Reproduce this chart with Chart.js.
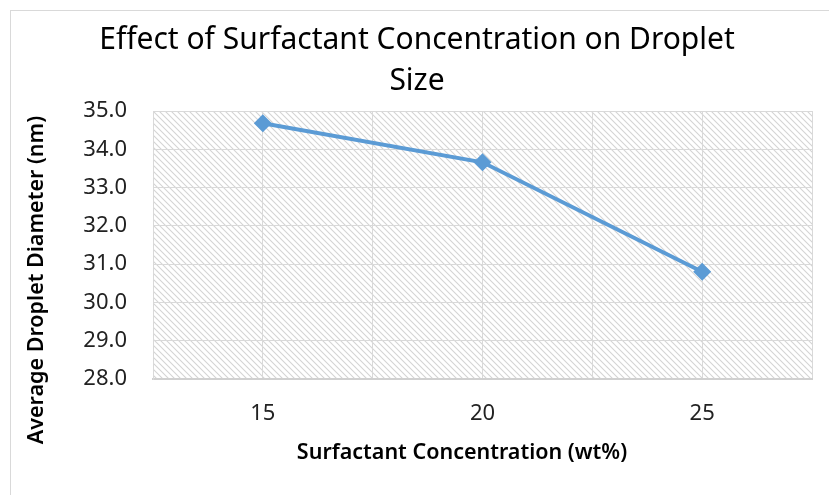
<!DOCTYPE html>
<html>
<head>
<meta charset="utf-8">
<script src="https://cdn.jsdelivr.net/npm/chart.js@4.4.0/dist/chart.umd.min.js"></script>
<style>
  html, body { margin: 0; padding: 0; background: #fff; }
  #wrap { width: 829px; height: 495px; }
</style>
</head>
<body>
<div id="wrap"><canvas id="myChart" width="829" height="495"></canvas></div>
<script>
// data
var concentrations = [15, 20, 25];            // wt%
var diameters = [34.68, 33.66, 30.80];        // nm
var xTickLabels = ['15', '20', '25'];
var titleLines = ['Effect of Surfactant Concentration on Droplet', 'Size'];
var xTitle = 'Surfactant Concentration (wt%)';
var yTitle = 'Average Droplet Diameter (nm)';

var points = concentrations.map(function (c, i) { return { x: c, y: diameters[i] }; });

function makeHatch(ctx) {
	var p = document.createElement('canvas');
	p.width = 6; p.height = 6;
	var pc = p.getContext('2d');
	pc.strokeStyle = '#d4d4d4';
	pc.lineWidth = 1.1;
	pc.beginPath();
	pc.moveTo(0, 0); pc.lineTo(6, 6);
	pc.moveTo(-1, 5); pc.lineTo(1, 7);
	pc.moveTo(5, -1); pc.lineTo(7, 1);
	pc.stroke();
	return ctx.createPattern(p, 'repeat');
}

var backdrop = {
	id: 'backdrop',
	beforeDraw: function (chart) {
		var ctx = chart.ctx, a = chart.chartArea;
		ctx.save();
		ctx.fillStyle = '#fff';
		ctx.fillRect(0, 0, chart.width, chart.height);
		ctx.strokeStyle = '#d9d9d9';
		ctx.lineWidth = 1;
		ctx.strokeRect(10.5, 10.5, chart.width + 20, chart.height + 20);
		ctx.fillStyle = makeHatch(ctx);
		ctx.fillRect(a.left, a.top, a.right - a.left, a.bottom - a.top);
		ctx.restore();
	},
	afterDraw: function (chart) {
		var ctx = chart.ctx;
		ctx.save();
		ctx.fillStyle = '#000';
		ctx.textAlign = 'center';
		ctx.textBaseline = 'alphabetic';
		ctx.font = '30px "Noto Sans"';
		ctx.fillText(titleLines[0], 417, 49);
		ctx.fillText(titleLines[1], 417, 90);

		ctx.font = '600 21.5px "Noto Sans"';
		ctx.textBaseline = 'middle';
		ctx.fillText(xTitle, 462, 453);

		ctx.translate(37, 280);
		ctx.rotate(-Math.PI / 2);
		ctx.fillText(yTitle, 0, 0);
		ctx.restore();
	}
};

var ctx = document.getElementById('myChart').getContext('2d');
var myChart = new Chart(ctx, {
	type: 'line',
	data: {
		datasets: [{
			label: 'Droplet size',
			data: points,
			borderColor: '#5B9BD5',
			backgroundColor: '#5B9BD5',
			borderWidth: 4,
			tension: 0,
			pointStyle: 'rectRot',
			pointRadius: 9,
			pointBorderWidth: 0,
			pointBackgroundColor: '#5B9BD5'
		}]
	},
	options: {
		responsive: false,
		animation: false,
		layout: { padding: { top: 111, left: 10, right: 17, bottom: 0 } },
		plugins: {
			legend: { display: false },
			tooltip: { enabled: false },
			title: { display: false }
		},
		scales: {
			x: {
				type: 'linear',
				min: 12.5,
				max: 27.5,
				afterFit: function (s) { s.height = 116; s.paddingRight = 0; s.paddingLeft = 0; },
				ticks: {
					stepSize: 2.5,
					autoSkip: false,
					maxRotation: 0,
					padding: 22,
					color: '#222',
					font: { family: 'Noto Sans', size: 22 },
					callback: function (v) {
						var i = concentrations.indexOf(v);
						return i >= 0 ? xTickLabels[i] : '';
					}
				},
				grid: { color: '#d9d9d9', drawTicks: false },
				border: { color: '#d0d0d0', width: 2 }
			},
			y: {
				min: 28,
				max: 35,
				afterFit: function (s) { s.width = 143; },
				ticks: {
					stepSize: 1,
					padding: 26,
					color: '#222',
					font: { family: 'Noto Sans', size: 22 },
					callback: function (v) { return v.toFixed(1); }
				},
				grid: { color: '#d9d9d9', drawTicks: false },
				border: { color: '#d9d9d9', width: 1 }
			}
		}
	},
	plugins: [backdrop]
});
</script>
</body>
</html>
